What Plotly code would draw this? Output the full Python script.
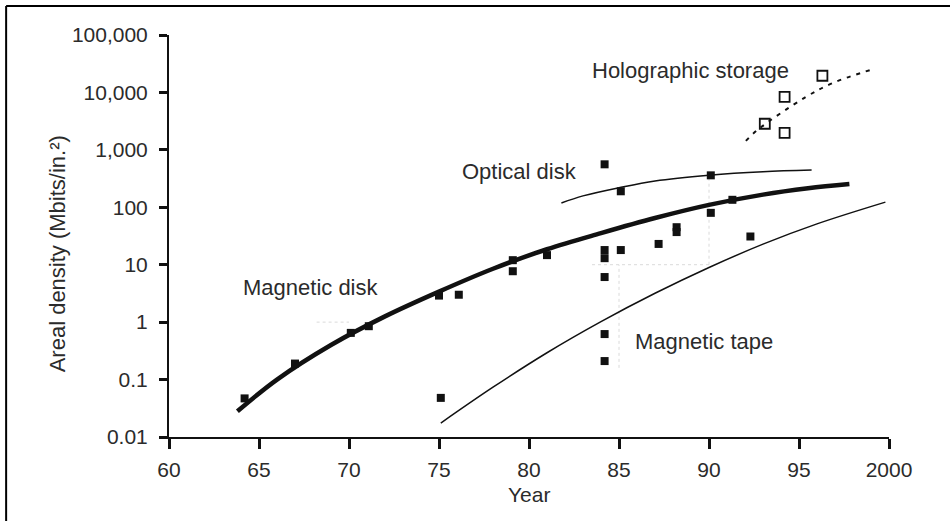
import plotly.graph_objects as go

# ---------------- data ----------------
# Magnetic disk data points (filled squares)
disk_years = [64.2, 67.0, 70.1, 71.1, 75.0, 76.1, 79.1, 79.1, 81.0, 84.2, 84.2, 84.2, 84.2,
              85.1, 85.1, 87.2, 88.2, 88.2, 90.1, 90.1, 91.3, 92.3]
disk_vals = [0.047, 0.19, 0.65, 0.85, 2.9, 3.0, 12.0, 7.7, 14.7, 560, 18, 13, 6.1,
             190, 18, 23, 45, 37, 360, 80, 135, 31]
# Magnetic tape data points (filled squares)
tape_years = [75.1, 84.2, 84.2]
tape_vals = [0.048, 0.62, 0.21]
# Holographic storage data points (open squares)
holo_years = [96.3, 94.2, 93.1, 94.2]
holo_vals = [19500, 8400, 2850, 1980]

# Hand-drawn trend curves
disk_curve_x = [63.8, 66.0, 69.0, 72.0, 75.0, 78.0, 81.0, 84.0, 87.0, 90.0, 93.0, 95.5, 97.8]
disk_curve_y = [0.028, 0.10, 0.40, 1.26, 3.4, 8.5, 18.6, 35.5, 65, 110, 166, 214, 254]
optical_curve_x = [81.8, 83.0, 85.0, 87.0, 90.0, 93.0, 95.7]
optical_curve_y = [119, 158, 219, 288, 363, 417, 444]
tape_curve_x = [75.1, 78.0, 81.0, 84.0, 87.0, 90.0, 93.0, 96.0, 99.8]
tape_curve_y = [0.0175, 0.0736, 0.293, 1.02, 3.18, 8.95, 22.8, 51.4, 123]
holo_curve_x = [92.05, 92.7, 95.3, 96.9, 99.0]
holo_curve_y = [1435, 2230, 8050, 14700, 24800]

# Faint dotted guide lines seen in the original
guides = [
    ([83.5, 90.0], [10, 10]),
    ([85.0, 85.0], [0.16, 10]),
    ([90.0, 90.0], [10, 400]),
    ([68.2, 70.0], [1, 1]),
]

x_ticks = [60, 65, 70, 75, 80, 85, 90, 95, 100]
x_labels = ["60", "65", "70", "75", "80", "85", "90", "95", "2000"]
y_ticks = [0.01, 0.1, 1, 10, 100, 1000, 10000, 100000]
y_labels = ["0.01", "0.1", "1", "10", "100", "1,000", "10,000", "100,000"]

labels = [
    ("Holographic storage", 83.41, 4.381),
    ("Optical disk", 76.15, 2.63),
    ("Magnetic disk", 64.02, 0.601),
    ("Magnetic tape", 85.78, -0.345),
]

# ---------------- figure ----------------
INK = "#111111"
TXT = "#2b2b2b"
FONT = "Liberation Sans, Arial, Helvetica, sans-serif"

L, R, T, B = 169.3, 889.0, 35.0, 436.7
def px(xp):
    return (xp - L) / (R - L)
def py(yp):
    return (B - yp) / (B - T)

fig = go.Figure()

for gx, gy in guides:
    fig.add_trace(go.Scatter(x=gx, y=gy, mode="lines",
                             line=dict(color="#dadada", width=1, dash="dot"),
                             hoverinfo="skip", showlegend=False))

fig.add_trace(go.Scatter(x=disk_curve_x, y=disk_curve_y, mode="lines",
                         line=dict(color=INK, width=4.5, shape="spline"), showlegend=False))
fig.add_trace(go.Scatter(x=optical_curve_x, y=optical_curve_y, mode="lines",
                         line=dict(color=INK, width=1.5, shape="spline"), showlegend=False))
fig.add_trace(go.Scatter(x=tape_curve_x, y=tape_curve_y, mode="lines",
                         line=dict(color=INK, width=1.5, shape="spline"), showlegend=False))
fig.add_trace(go.Scatter(x=holo_curve_x, y=holo_curve_y, mode="lines",
                         line=dict(color=INK, width=2, shape="spline", dash="4px,6px"),
                         showlegend=False))

fig.add_trace(go.Scatter(x=disk_years, y=disk_vals, mode="markers",
                         marker=dict(symbol="square", size=8, color=INK), showlegend=False))
fig.add_trace(go.Scatter(x=tape_years, y=tape_vals, mode="markers",
                         marker=dict(symbol="square", size=8, color=INK), showlegend=False))
fig.add_trace(go.Scatter(x=holo_years, y=holo_vals, mode="markers",
                         marker=dict(symbol="square-open", size=10, color=INK,
                                     line=dict(width=1.8, color=INK)), showlegend=False))

for text, ax, ay in labels:
    fig.add_annotation(x=ax, y=ay, text=text, showarrow=False, xanchor="left",
                       yanchor="middle", font=dict(size=22, color=TXT, family=FONT))

# axis titles as annotations for exact placement
fig.add_annotation(x=0.5, y=py(494), xref="paper", yref="paper", text="Year",
                   showarrow=False, yanchor="middle",
                   font=dict(size=21, color=TXT, family=FONT))
fig.add_annotation(xref="paper", yref="paper", x=px(57.5), y=py(254),
                   text="Areal density (Mbits/in.²)", showarrow=False, textangle=-90,
                   xanchor="center", yanchor="middle",
                   font=dict(size=22, color=TXT, family=FONT))

# scanned frame (top and left lines)
fig.add_shape(type="line", xref="paper", yref="paper", x0=px(6.5), x1=px(960),
              y0=py(6), y1=py(6), line=dict(color="#000", width=2))
fig.add_shape(type="line", xref="paper", yref="paper", x0=px(6.5), x1=px(6.5),
              y0=py(6), y1=py(530), line=dict(color="#000", width=2))

fig.update_xaxes(range=[60, 100], tickvals=x_ticks, ticktext=x_labels,
                 showgrid=False, zeroline=False, showline=True, linecolor=INK, linewidth=2,
                 ticks="outside", ticklen=10, tickwidth=2.5, tickcolor=INK,
                 tickfont=dict(size=21, color=TXT, family=FONT), ticklabelstandoff=3)
fig.update_yaxes(type="log", range=[-2, 5], tickvals=y_ticks, ticktext=y_labels,
                 showgrid=False, zeroline=False, showline=True, linecolor=INK, linewidth=2,
                 ticks="outside", ticklen=8, tickwidth=2.5, tickcolor=INK,
                 tickfont=dict(size=21, color=TXT, family=FONT), ticklabelstandoff=7)

fig.update_layout(width=950, height=521,
                  margin=dict(l=169, r=61, t=35, b=84, autoexpand=False),
                  paper_bgcolor="white", plot_bgcolor="white", showlegend=False)

fig.write_html("out.html", config={"displayModeBar": False},
               post_script="document.body.style.margin='0';document.body.style.overflow='hidden';")
